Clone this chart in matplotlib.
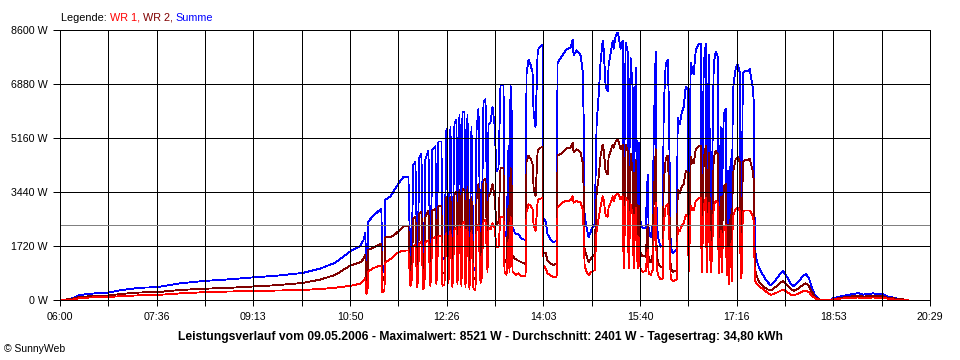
import matplotlib
matplotlib.use("Agg")
import matplotlib.pyplot as plt
import numpy as np
from matplotlib.offsetbox import TextArea, HPacker, AnchoredOffsetbox

# ---- data (minutes after 06:00, power in W) ----
minutes = [0, 10, 15, 20, 30, 48, 60, 80, 97, 120, 145, 170, 193, 215, 242, 260, 275, 290,
           300, 303, 305, 306, 307, 308, 312, 318, 321, 322, 324, 325, 330, 335, 340, 343, 348,
           350, 351, 353, 355, 357, 359, 361, 363, 364, 365, 368, 370, 372, 375, 376, 378, 381,
           382, 384, 386, 388, 390, 392, 394, 396, 397, 399, 401, 402, 404, 405, 407, 409, 411,
           413, 415, 416, 418, 420, 421, 423, 425, 427, 428, 430, 432, 434, 436, 438, 440, 443,
           444, 446, 448, 449, 450, 451, 452, 455, 458, 461, 465, 466, 468, 470, 472, 473, 475,
           477, 478, 480, 482, 483, 485, 487, 490, 493, 496, 497, 500, 502, 505, 507, 510, 512,
           513, 516, 520, 522, 523, 524, 526, 528, 531, 534, 536, 538, 540, 542, 543, 545, 547,
           548, 550, 552, 553, 555, 557, 558, 560, 562, 563, 565, 567, 568, 570, 572, 573, 575,
           577, 578, 580, 582, 585, 587, 588, 590, 592, 593, 595, 596, 598, 600, 602, 603, 605,
           607, 608, 610, 612, 614, 616, 617, 619, 621, 623, 625, 627, 628, 630, 632, 633, 635,
           638, 640, 641, 643, 645, 646, 648, 650, 651, 653, 655, 657, 658, 660, 661, 662, 663,
           665, 666, 667, 668, 669, 670, 671, 672, 673, 675, 677, 679, 680, 681, 682, 684, 687,
           689, 690, 692, 693, 694, 696, 698, 700, 703, 706, 710, 715, 720, 722, 725, 730, 733,
           738, 742, 745, 748, 751, 754, 757, 760, 770, 772, 777, 782, 787, 792, 797, 802, 807,
           812, 817, 822, 827, 832, 837, 842, 847]

wr1 = [0, 0, 30, 60, 80, 96, 120, 150, 160, 210, 250, 270, 290, 300, 320, 350, 390, 450,
       520, 600, 700, 200, 220, 900, 1000, 1080, 1100, 250, 300, 1200, 1300, 1450, 1550, 1570, 1580,
       450, 500, 1700, 1750, 400, 1800, 1850, 350, 400, 1850, 1900, 450, 1950, 2000, 500, 2050, 2050,
       450, 500, 2150, 550, 2200, 400, 2250, 2300, 500, 2400, 450, 2450, 2500, 400, 2300, 350, 2200,
       350, 300, 2200, 2400, 550, 600, 2500, 2550, 900, 2300, 2250, 2450, 2300, 1700, 1700, 2650, 2650,
       900, 800, 1900, 900, 2650, 2500, 900, 800, 850, 750, 760, 2800, 3050, 3000, 2900, 2400, 2200,
       3100, 3200, 3230, 3250, 1100, 1000, 850, 780, 720, 740, 2950, 3050, 3100, 3150, 3150, 3180, 3300,
       3100, 3150, 3100, 2900, 2300, 1100, 900, 800, 900, 950, 2200, 2600, 3000, 3300, 3200, 2700, 2650,
       2950, 3100, 3300, 3150, 3350, 3400, 3350, 3200, 3300, 1000, 3250, 3150, 1000, 3050, 2700, 1000, 2950,
       1000, 2000, 950, 900, 920, 1600, 850, 800, 950, 2000, 3100, 1000, 750, 650, 680, 2400, 3000,
       3050, 2600, 700, 600, 620, 650, 2300, 2200, 2350, 2450, 2700, 2650, 900, 3000, 2900, 2850, 3150,
       3250, 3250, 900, 3000, 3250, 900, 3100, 900, 1300, 3000, 3150, 3100, 850, 2200, 900, 1800, 2300,
       2400, 800, 1700, 500, 1500, 1800, 600, 2600, 2750, 2900, 2950, 2850, 700, 900, 2800, 2850, 2850,
       2850, 2800, 2650, 2500, 650, 500, 450, 394, 330, 250, 160, 220, 300, 320, 280, 170, 150,
       210, 280, 300, 250, 140, 60, 20, 0, 0, 20, 40, 50, 60, 70, 80, 60, 70,
       80, 70, 70, 40, 20, 10, 0, 0]

wr2 = [0, 30, 60, 100, 120, 140, 190, 240, 250, 320, 360, 390, 430, 470, 540, 650, 800, 1100,
       1200, 1300, 1450, 500, 550, 1600, 1650, 1750, 1800, 600, 700, 2000, 2000, 2100, 2250, 2350, 2350,
       700, 750, 2600, 2650, 650, 2750, 2800, 550, 700, 2650, 2850, 800, 2850, 2900, 800, 3000, 3000,
       850, 850, 3300, 900, 3300, 750, 3350, 3450, 800, 3500, 800, 3550, 3500, 800, 3600, 700, 3300,
       700, 650, 3200, 3700, 900, 1000, 3800, 3850, 1200, 3300, 3400, 3700, 3300, 2400, 2500, 4200, 4200,
       1300, 1200, 3000, 1300, 4200, 3800, 1400, 1300, 1250, 1200, 1150, 4400, 4600, 4500, 4350, 3600, 3300,
       4700, 4800, 4850, 4880, 1500, 1500, 1250, 1150, 1120, 1150, 4600, 4650, 4700, 4800, 4850, 4850, 5000,
       4700, 4800, 4700, 4400, 3600, 1600, 1400, 1200, 1350, 1450, 3400, 3900, 4600, 4950, 4800, 4100, 4000,
       4550, 4750, 4950, 4850, 5050, 5120, 5050, 4800, 4950, 1400, 4950, 4750, 1400, 4650, 4050, 1400, 4450,
       1400, 3000, 1450, 1400, 1380, 2400, 1300, 1200, 1450, 3200, 4800, 1400, 1150, 1050, 1050, 3700, 4500,
       4600, 3900, 1000, 900, 920, 950, 3500, 3400, 3600, 3700, 4100, 4050, 1300, 4550, 4400, 4350, 4800,
       4900, 4900, 1300, 4500, 4900, 1300, 4700, 1300, 2000, 4550, 4750, 4650, 1350, 3300, 1300, 2800, 3600,
       3700, 1300, 2400, 1100, 2300, 2700, 1100, 3900, 4200, 4500, 4550, 4400, 1000, 1300, 4400, 4450, 4450,
       4500, 4350, 4100, 3800, 1000, 750, 600, 520, 420, 350, 300, 420, 560, 600, 520, 350, 290,
       380, 480, 530, 450, 260, 100, 30, 0, 0, 30, 50, 80, 100, 120, 140, 110, 120,
       130, 120, 120, 70, 60, 30, 20, 0]

summe = np.array(wr1) + np.array(wr2)
average_w = 2401

y_ticks = [0, 1720, 3440, 5160, 6880, 8600]
x_tick_labels = ["06:00", "07:36", "09:13", "10:50", "12:26", "14:03", "15:40", "17:16", "18:53", "20:29"]
day_span = 869  # minutes from 06:00 to 20:29

title = ("Leistungsverlauf vom 09.05.2006 - Maximalwert: 8521 W - Durchschnitt: 2401 W - "
         "Tagesertrag: 34,80 kWh")

# ---- figure ----
W, H = 960, 360
fig = plt.figure(figsize=(W / 100, H / 100), dpi=100)
fig.patch.set_facecolor("white")
ax = fig.add_axes([60 / W, 1 - 300 / H, 870 / W, 270 / H])

font = "Liberation Sans"
px = 72 / 100  # one pixel in points
dlw = 0.6

ax.plot(minutes, summe, color="#0000FF", lw=dlw, antialiased=False, zorder=2)
ax.plot(minutes, wr2, color="#800000", lw=dlw, antialiased=False, zorder=2.1)
ax.plot(minutes, wr1, color="#FF0000", lw=dlw, antialiased=False, zorder=2.2)
ax.axhline(average_w, color="#808080", lw=px, antialiased=False, zorder=3)

ax.set_xlim(0, day_span)
ax.set_ylim(0, 8600)

grid_x = np.linspace(0, day_span, 19)
ax.set_xticks(grid_x)
labels = []
for i in range(19):
    labels.append(x_tick_labels[i // 2] if i % 2 == 0 else "")
ax.set_xticklabels(labels, fontfamily=font, fontsize=7.7)
ax.set_yticks(y_ticks)
ax.set_yticklabels([f"{v} W" for v in y_ticks], fontfamily=font, fontsize=7.7)

ax.set_axisbelow(False)
ax.grid(True, color="black", lw=px, antialiased=False)
for g in ax.get_xgridlines() + ax.get_ygridlines():
    g.set_zorder(2.8)
ax.tick_params(axis="x", length=4, width=px, pad=5, color="black")
ax.tick_params(axis="y", length=5, width=px, pad=4, color="black")
for s in ax.spines.values():
    s.set_linewidth(px)
    s.set_color("black")
    s.set_zorder(4)

# legend line at the top
parts = [("Legende: ", "black"), ("WR 1, ", "#FF0000"), ("WR 2, ", "#800000"), ("Summe", "#0000FF")]
areas = [TextArea(t, textprops=dict(color=c, fontfamily=font, fontsize=7.8)) for t, c in parts]
box = HPacker(children=areas, align="baseline", pad=0, sep=0)
anch = AnchoredOffsetbox(loc="lower left", child=box, pad=0, borderpad=0, frameon=False,
                         bbox_to_anchor=(61 / W, 1 - 23 / H), bbox_transform=fig.transFigure)
fig.add_artist(anch)

fig.text(480 / W, 1 - 337 / H, title, ha="center", va="center", fontfamily=font,
         fontsize=8.7, fontweight="bold")
fig.text(4 / W, 1 - 349 / H, "\u00a9 SunnyWeb", ha="left", va="center", fontfamily=font, fontsize=7.5)

fig.savefig("out.png", dpi=100, facecolor="white")
